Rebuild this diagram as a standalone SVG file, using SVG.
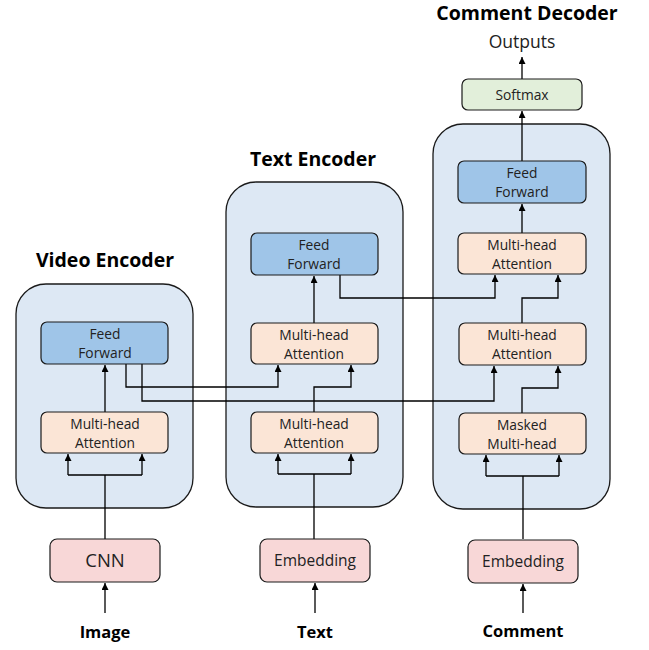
<svg xmlns="http://www.w3.org/2000/svg" width="649" height="650" viewBox="0 0 649 650">
<defs>
<marker id="ah" viewBox="0 0 10 10" refX="10" refY="5" markerWidth="7" markerHeight="7" markerUnits="userSpaceOnUse" orient="auto">
<path d="M0,0 L10,5 L0,10 z" fill="#000"/>
</marker>
<style>
.cont{fill:#dde8f4;stroke:#1a1a1a;stroke-width:1.3}
.ff{fill:#9fc5e8;stroke:#1a1a1a;stroke-width:1.2}
.mha{fill:#fbe5d6;stroke:#1a1a1a;stroke-width:1.2}
.sm{fill:#e2efda;stroke:#1a1a1a;stroke-width:1.2}
.in{fill:#f8d7d7;stroke:#1a1a1a;stroke-width:1.2}
.t{font-family:"Open Sans","Liberation Sans",sans-serif;font-size:13.8px;fill:#222;text-anchor:middle}
.title{font-family:"Open Sans","Liberation Sans",sans-serif;font-size:19.5px;font-weight:bold;fill:#000;text-anchor:middle}
.lab{font-family:"Open Sans","Liberation Sans",sans-serif;font-size:16.5px;font-weight:bold;fill:#000;text-anchor:middle}
.c{fill:none;stroke:#000;stroke-width:1.3}
.a{fill:none;stroke:#000;stroke-width:1.3;marker-end:url(#ah)}
</style>
</defs>
<rect width="649" height="650" fill="#fff"/>

<g id="video-encoder">
<rect class="cont" x="16" y="284" width="177" height="224" rx="30"/>
<text class="title" x="105" y="267">Video Encoder</text>
</g>
<g id="text-encoder">
<rect class="cont" x="226" y="182" width="177" height="325" rx="30"/>
<text class="title" x="313" y="166">Text Encoder</text>
</g>
<g id="comment-decoder">
<rect class="cont" x="433" y="124" width="177" height="385" rx="30"/>
<text class="title" x="527" y="20">Comment Decoder</text>
</g>

<g id="connectors">
<path class="a" d="M105,613 V583"/>
<path class="c" d="M105,539 V475 M68,475 H142"/>
<path class="a" d="M68,475 V454"/>
<path class="a" d="M142,475 V454"/>
<path class="a" d="M105,412 V365"/>
<path class="a" d="M126,364 V387 H278 V365"/>
<path class="a" d="M142,364 V401 H494 V366"/>
<path class="a" d="M315,613 V583"/>
<path class="c" d="M314,539 V474 M278,474 H351"/>
<path class="a" d="M278,474 V454"/>
<path class="a" d="M351,474 V454"/>
<path class="a" d="M314,412 V387 H351 V365"/>
<path class="a" d="M314,323 V276"/>
<path class="a" d="M340,275 V298 H495 V275"/>
<path class="a" d="M523,613 V584"/>
<path class="c" d="M523,539 V476 M486,476 H559"/>
<path class="a" d="M486,476 V455"/>
<path class="a" d="M559,476 V455"/>
<path class="a" d="M522,413 V388 H558 V366"/>
<path class="a" d="M522,323 V298 H558 V275"/>
<path class="a" d="M522,233 V204"/>
<path class="a" d="M522,161 V111"/>
<path class="a" d="M522,79 V57"/>
</g>

<g id="video-ff">
<rect class="ff" x="41" y="322" width="127" height="42" rx="6"/>
<text class="t" x="105" y="339">Feed</text>
<text class="t" x="105" y="358">Forward</text>
</g>
<g id="video-mha">
<rect class="mha" x="41" y="412" width="127" height="41" rx="6"/>
<text class="t" x="105" y="429">Multi-head</text>
<text class="t" x="105" y="448">Attention</text>
</g>
<g id="text-ff">
<rect class="ff" x="251" y="233" width="127" height="42" rx="6"/>
<text class="t" x="314" y="250">Feed</text>
<text class="t" x="314" y="269">Forward</text>
</g>
<g id="text-mha-upper">
<rect class="mha" x="251" y="323" width="127" height="41" rx="6"/>
<text class="t" x="314" y="340">Multi-head</text>
<text class="t" x="314" y="359">Attention</text>
</g>
<g id="text-mha-lower">
<rect class="mha" x="251" y="412" width="127" height="41" rx="6"/>
<text class="t" x="314" y="429">Multi-head</text>
<text class="t" x="314" y="448">Attention</text>
</g>
<g id="softmax">
<rect class="sm" x="462" y="79" width="120" height="31" rx="6"/>
<text class="t" x="522" y="100">Softmax</text>
</g>
<text class="t" x="522" y="48" style="font-size:17.5px">Outputs</text>
<g id="comment-ff">
<rect class="ff" x="458" y="161" width="128" height="42" rx="6"/>
<text class="t" x="522" y="178">Feed</text>
<text class="t" x="522" y="197">Forward</text>
</g>
<g id="comment-mha1">
<rect class="mha" x="458" y="233" width="128" height="41" rx="6"/>
<text class="t" x="522" y="250">Multi-head</text>
<text class="t" x="522" y="269">Attention</text>
</g>
<g id="comment-mha2">
<rect class="mha" x="459" y="323" width="127" height="42" rx="6"/>
<text class="t" x="522" y="340">Multi-head</text>
<text class="t" x="522" y="359">Attention</text>
</g>
<g id="comment-masked">
<rect class="mha" x="459" y="413" width="127" height="41" rx="6"/>
<text class="t" x="522" y="430">Masked</text>
<text class="t" x="522" y="449">Multi-head</text>
</g>

<g id="cnn">
<rect class="in" x="50" y="539" width="110" height="43" rx="7"/>
<text class="t" x="105" y="567" style="font-size:18.5px">CNN</text>
</g>
<g id="text-embedding">
<rect class="in" x="260" y="539" width="110" height="43" rx="7"/>
<text class="t" x="315" y="566" style="font-size:15.5px">Embedding</text>
</g>
<g id="comment-embedding">
<rect class="in" x="468" y="540" width="110" height="43" rx="7"/>
<text class="t" x="523" y="567" style="font-size:15.5px">Embedding</text>
</g>
<text class="lab" x="105" y="638">Image</text>
<text class="lab" x="315" y="638">Text</text>
<text class="lab" x="523" y="637">Comment</text>
</svg>
